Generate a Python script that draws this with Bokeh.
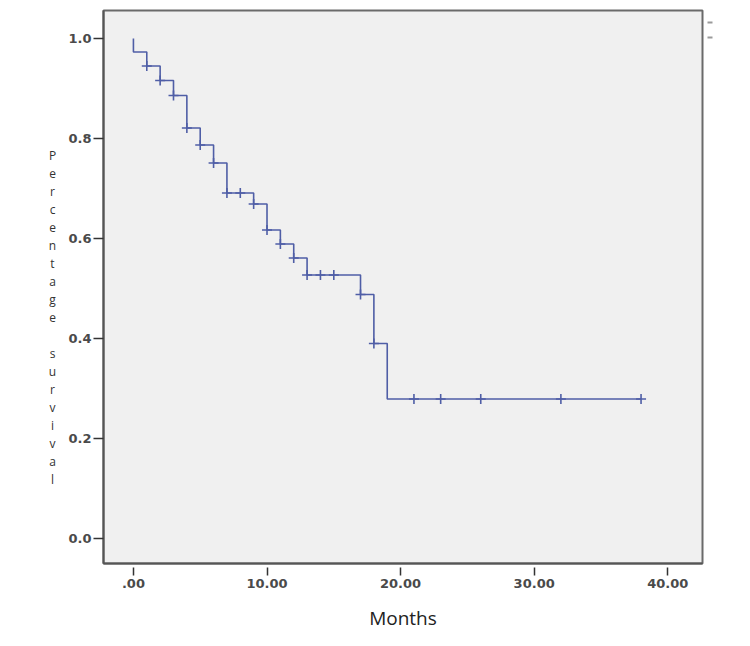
from bokeh.plotting import figure
from bokeh.models import Range1d, FixedTicker, LinearAxis
from bokeh.layouts import row
from bokeh.core.properties import value
from bokeh.embed import file_html
from bokeh.resources import INLINE

# ---- data ----
step_times = [0, 0, 1, 2, 3, 4, 5, 6, 7, 9, 10, 11, 12, 13, 17, 18, 19, 38]
step_surv = [1.0, 0.973, 0.945, 0.916, 0.886, 0.821, 0.787, 0.751, 0.691,
             0.669, 0.617, 0.589, 0.561, 0.527, 0.488, 0.390, 0.279, 0.279]
censor_times = [1, 2, 3, 4, 5, 6, 7, 8, 9, 10, 11, 12, 13, 14, 15, 17, 18,
                21, 23, 26, 32, 38]
censor_surv = [0.945, 0.916, 0.886, 0.821, 0.787, 0.751, 0.691, 0.691, 0.669,
               0.617, 0.589, 0.561, 0.527, 0.527, 0.527, 0.488, 0.390,
               0.279, 0.279, 0.279, 0.279, 0.279]
x_ticks = [0, 10, 20, 30, 40]
x_tick_labels = [".00", "10.00", "20.00", "30.00", "40.00"]
y_ticks = [0.0, 0.2, 0.4, 0.6, 0.8, 1.0]
y_tick_labels = ["0.0", "0.2", "0.4", "0.6", "0.8", "1.0"]
y_title = "Percentage survival"
x_title = "Months"

LINE = "#4f5ea6"
W, H = 750, 646
SIDE_W = 60                      # narrow panel holding the stacked y title
X0, X1 = -2.24, 42.6
Y0, Y1 = -0.05, 1.056
FL, FR, FT, FB = 103, 702, 10, 563  # frame edges in window pixels


def py_to_data(cy):
    return Y1 - (cy - FT) * (Y1 - Y0) / (FB - FT)


# ---- left panel: y title written one letter per line ----
# (its frame is aligned with the main frame by the row layout, so its
#  y range maps window pixels FT..FB)
side = figure(width=SIDE_W, height=H, output_backend="svg", toolbar_location=None,
              x_range=Range1d(0, SIDE_W), y_range=Range1d(FB, FT),
              min_border_left=0, min_border_right=0,
              min_border_top=FT, min_border_bottom=H - FB)
side.axis.visible = False
side.grid.visible = False
side.outline_line_color = None
side.background_fill_color = "white"
side.border_fill_color = "white"
letters = [c for c in y_title]
keep = [i for i, c in enumerate(letters) if c != " "]
side.text(x=[52 for _ in keep], y=[155 + i * 18 for i in keep],
          text=[letters[i] for i in keep],
          text_font=value("Open Sans"), text_font_size="12px",
          text_color="#333333", text_align="center", text_baseline="middle")

# ---- main plot ----
p = figure(width=W - SIDE_W, height=H, output_backend="svg", toolbar_location=None,
           x_range=Range1d(X0, X1), y_range=Range1d(Y0, Y1),
           min_border_left=FL - SIDE_W, min_border_right=W - FR,
           min_border_top=FT, min_border_bottom=H - FB)

p.background_fill_color = "#f0f0f0"
p.border_fill_color = "white"
p.outline_line_color = "#6a6a6a"
p.outline_line_width = 2
p.xgrid.visible = False
p.ygrid.visible = False

p.step(step_times, step_surv, mode="after", line_color=LINE, line_width=1.6)
p.scatter(censor_times, censor_surv, marker="cross", size=10,
          line_color=LINE, line_width=1.6)

p.xaxis.ticker = FixedTicker(ticks=x_ticks)
p.xaxis.major_label_overrides = dict(zip(x_ticks, x_tick_labels))
p.yaxis.ticker = FixedTicker(ticks=y_ticks)
p.yaxis.major_label_overrides = dict(zip(y_ticks, y_tick_labels))
for ax in (p.xaxis[0], p.yaxis[0]):
    ax.minor_tick_line_color = None
    ax.major_tick_line_color = "#333333"
    ax.major_tick_line_width = 1.5
    ax.axis_line_color = "#555555"
    ax.axis_line_width = 2
    ax.major_label_text_font = "DejaVu Sans"
    ax.major_label_text_font_style = "bold"
    ax.major_label_text_font_size = "13px"
    ax.major_label_text_color = "#4a4a4a"
p.xaxis.major_tick_in = -4
p.xaxis.major_tick_out = 12
p.xaxis.major_label_standoff = 3
p.yaxis.major_tick_in = 0
p.yaxis.major_tick_out = 10
p.yaxis.major_label_standoff = 2

p.xaxis.axis_label = x_title
p.xaxis.axis_label_text_font = "Open Sans"
p.xaxis.axis_label_text_font_style = "normal"
p.xaxis.axis_label_text_font_size = "19px"
p.xaxis.axis_label_text_color = "#222222"
p.xaxis.axis_label_standoff = 14

# cropped legend remnants at the top right: two short grey marks
rem_ticks = [py_to_data(22), py_to_data(37)]
rax = LinearAxis(ticker=FixedTicker(ticks=rem_ticks),
                 major_label_overrides={t: "" for t in rem_ticks},
                 axis_line_color=None, minor_tick_line_color=None,
                 major_tick_in=-5, major_tick_out=10,
                 major_tick_line_color="#9a9a9a", major_tick_line_width=2,
                 major_label_text_font_size="1px")
p.add_layout(rax, "right")

layout = row(side, p, spacing=0)
open("out.html", "w").write(file_html(layout, INLINE))
